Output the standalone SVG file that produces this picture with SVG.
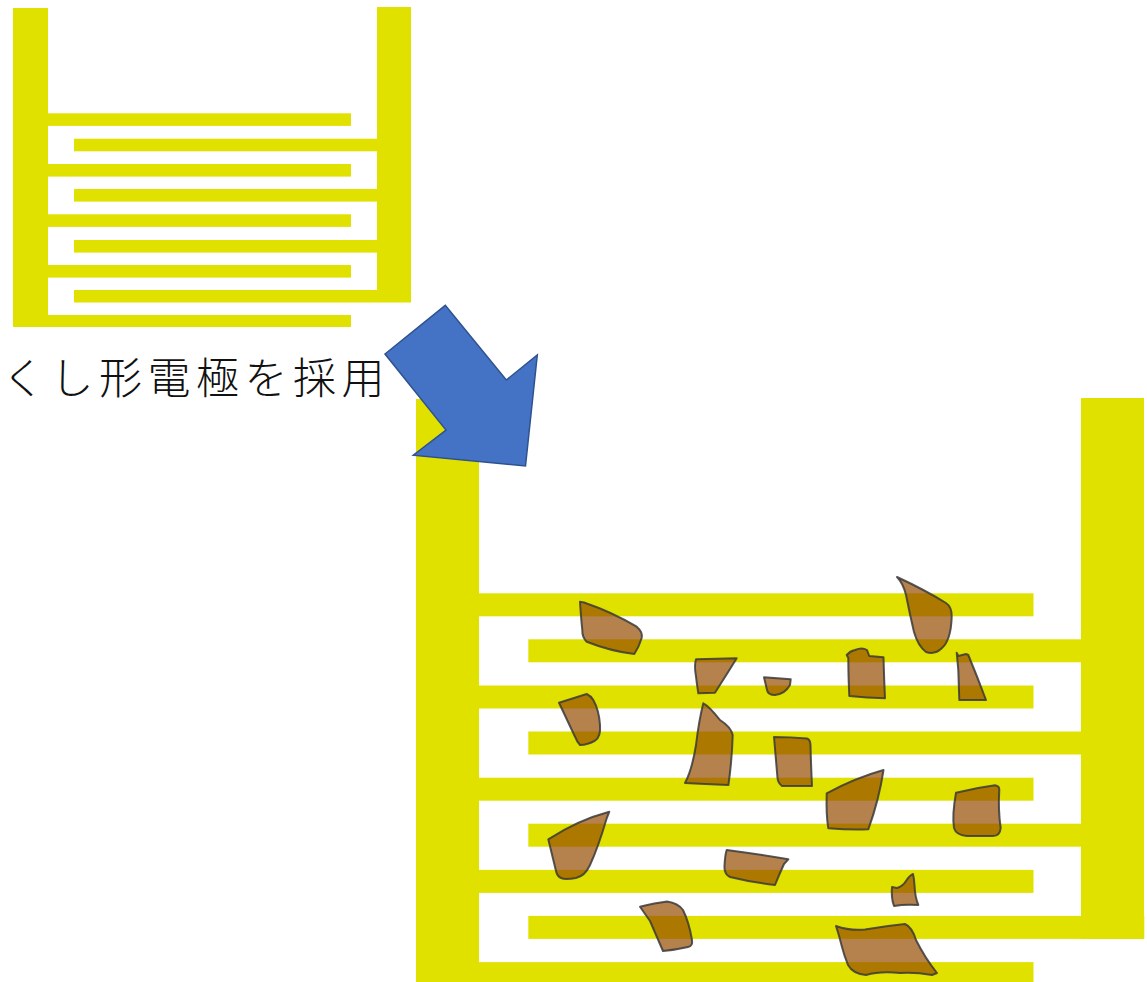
<svg xmlns="http://www.w3.org/2000/svg" width="1147" height="982" viewBox="0 0 1147 982">
  <style>
    .electrode { fill: #E1E100; }
    .arrow { fill: #4472C4; stroke: #2F528F; stroke-width: 1.5; stroke-linejoin: miter; }
    .label { font-family: "Noto Sans CJK JP", "Noto Sans", sans-serif; font-size: 43px; font-weight: 300; letter-spacing: 5.5px; fill: #111; }
    .particle { fill: rgb(150,76,0); fill-opacity: 0.7; stroke: #3a3a3a; stroke-opacity: 0.85; stroke-width: 2; stroke-linejoin: round; }
  </style>
  <rect width="1147" height="982" fill="#FFFFFF"/>

  <!-- small interdigitated (comb) electrode -->
  <g id="comb-small" class="electrode">
    <rect x="13" y="8" width="35" height="319"/>
    <rect x="48" y="113.3" width="303" height="12.6"/>
    <rect x="48" y="164" width="303" height="12.6"/>
    <rect x="48" y="214.3" width="303" height="12.6"/>
    <rect x="48" y="265" width="303" height="12.6"/>
    <rect x="48" y="315" width="303" height="12"/>
    <rect x="377" y="7" width="34" height="295.5"/>
    <rect x="74" y="138.7" width="303" height="12.6"/>
    <rect x="74" y="189" width="303" height="12.6"/>
    <rect x="74" y="240" width="303" height="12.6"/>
    <rect x="74" y="290" width="303" height="12.5"/>
  </g>

  <!-- caption -->
  <g id="caption">
    <text class="label" x="2" y="394">くし形電極を採用</text>
  </g>

  <!-- large comb electrode -->
  <g id="comb-large" class="electrode">
    <rect x="416" y="399" width="63" height="583"/>
    <rect x="479" y="593.3" width="554.5" height="23"/>
    <rect x="479" y="685.5" width="554.5" height="23"/>
    <rect x="479" y="777.7" width="554.5" height="23"/>
    <rect x="479" y="869.9" width="554.5" height="23"/>
    <rect x="479" y="962.1" width="554.5" height="20"/>
    <rect x="1081" y="398" width="63" height="541"/>
    <rect x="528.3" y="639.3" width="553" height="23"/>
    <rect x="528.3" y="731.5" width="553" height="23"/>
    <rect x="528.3" y="823.7" width="553" height="23"/>
    <rect x="528.3" y="915.9" width="616" height="23"/>
  </g>

  <!-- block arrow -->
  <g id="arrow">
    <polygon class="arrow" points="385,354 445.3,305.3 506.3,380 537.3,355 525.5,466 413.3,455.2 446,430"/>
  </g>

  <!-- contaminant particles -->
  <g id="particles">
    <path class="particle" d="M580,601.7 L584,602.5 Q612,612 636.7,626.7 Q643,632 641.7,638 Q639,647 634.3,654 Q610,651 586.7,641.7 Q582,637 582.3,630 Q581,618 580,601.7 Z"/>
    <path class="particle" d="M559,702.7 L586.7,694 Q591,696 593.3,700 Q599,710 600,725 Q601,737 595,740.7 Q588,745 580,745 Q577,742 575,736.7 Q568,722 559,702.7 Z"/>
    <path class="particle" d="M696,659.3 L736.7,658.3 L728.3,671.7 L715,692.7 L698.3,693.3 Q697,685 696,676.7 Q694,665 696,659.3 Z"/>
    <path class="particle" d="M764,677.3 L790.7,679.3 L790,685 Q785,694 775,695 Q768,695 767,690 Z"/>
    <path class="particle" d="M846.7,655 Q850,651 855,650 Q862,647 867,650 L869.3,656 L883.5,657.3 Q884,678 885,698.3 Q867,698 849.3,696 Q848.3,675 848.3,658 Z"/>
    <path class="particle" d="M897,577 Q925,590 946,603 Q952,607 951.7,616.7 Q951,640 942,648 Q935,655 926,652 Q918,646 914,632 Q910,615 906,595 Q903,583 897,577 Z"/>
    <path class="particle" d="M956.7,652.7 L958.3,656 L966,654 L968.3,655 Q977,676 986,700 L959.3,700 L958.3,670 Z"/>
    <path class="particle" d="M703.3,703.3 Q709,706 720,720 Q731,727 732.7,735 Q732,760 728.4,785 L705,784 L685,783 Q692,770 696,745 Q699,720 703.3,703.3 Z"/>
    <path class="particle" d="M774,737 Q791,737 807,738.5 Q810.5,740 810.5,745 Q811,766 812,786 L782,786 Q778,783 777.5,778 Q776,760 774,737 Z"/>
    <path class="particle" d="M826.7,793.3 Q855,778 883.5,770 Q879,800 868.3,829.3 Q850,830 828.3,828.3 Q826,815 826.7,793.3 Z"/>
    <path class="particle" d="M956,792.7 Q975,788 995,785.3 Q999.5,786 999.3,790 Q998,810 1000.7,828 Q1000,836 993,836 L966.7,836 Q956,835 954,828 Q952,815 956,792.7 Z"/>
    <path class="particle" d="M548.3,839.3 Q578,820 609.3,811.7 L606.7,818.3 Q598,848 590,865 Q585,876 576,878 Q565,880 561,878 Q557,876 556,871 Z"/>
    <path class="particle" d="M726.7,850 Q757,854 788.3,859.3 L784,864 Q779,875 775,885 Q750,882 730,877 Q724,874 724.5,866 Q725,855 726.7,850 Z"/>
    <path class="particle" d="M892,887 L897,888 Q903,886 906,881 Q910,875 913,874 Q914,878 914.5,885 Q915,897 918.3,905 Q905,904 894,906 Q891,898 892,887 Z"/>
    <path class="particle" d="M640,906.7 Q655,903 667,901.5 Q678,903 683,910 Q689,922 692,940 Q693,946 688,947 Q675,950 663,951 Q656,935 650,921 Z"/>
    <path class="particle" d="M836,926 Q850,931 865,929.5 Q885,926 905,924 Q912,927 916,940 Q925,958 937,973 L932,975 Q915,972 900,973 Q880,971 866,975 Q853,974 848,965 Q844,955 842,947 Q839,935 836,926 Z"/>
  </g>
</svg>
